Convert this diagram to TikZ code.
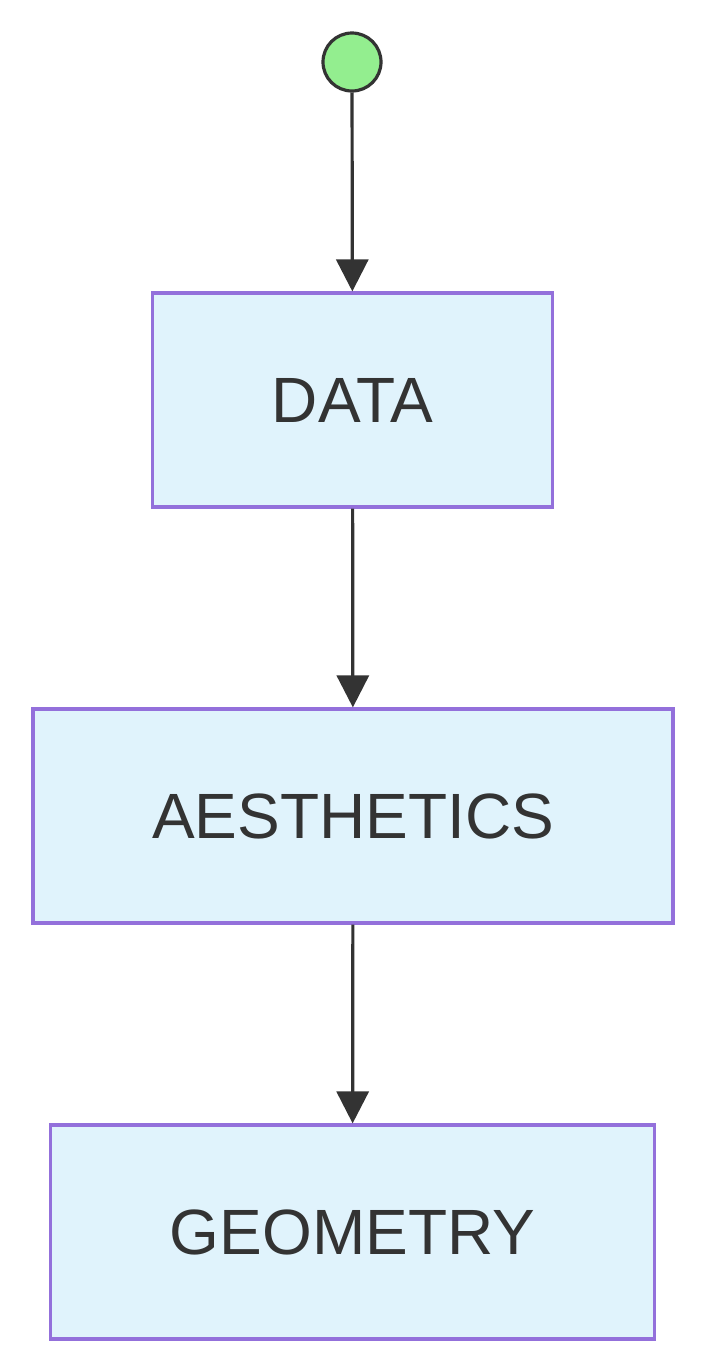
\documentclass[tikz,border=0pt]{standalone}
\usepackage{fontspec}
\setmainfont{Liberation Sans}
\usetikzlibrary{arrows.meta}
\definecolor{flowpurple}{RGB}{147,112,219}
\definecolor{flowfill}{RGB}{224,243,252}
\definecolor{flowdark}{RGB}{51,51,51}
\definecolor{flowgreen}{RGB}{147,238,143}

\tikzset{
  stagebox/.style={draw=flowpurple, fill=flowfill, line width=1.6pt,
    minimum height=107pt, text=flowdark, font=\fontsize{32}{38}\selectfont},
  flowarrow/.style={draw=flowdark, line width=1.6pt,
    -{Triangle[length=16pt,width=16pt]}}
}

\begin{document}
\begin{tikzpicture}[x=0.5pt, y=-0.5pt]
  \useasboundingbox (0,0) rectangle (704,1372);
  % Start point
  \node[circle, draw=flowdark, fill=flowgreen, line width=1.6pt,
    minimum size=29pt, inner sep=0pt] (start) at (352,62) {};
  % Stages
  \node[stagebox, minimum width=200pt] (data) at (352.5,400) {DATA};
  \node[stagebox, minimum width=320pt] (aes) at (353,816) {AESTHETICS};
  \node[stagebox, minimum width=302pt] (geom) at (352.5,1232) {GEOMETRY};
  % Arrows
  \draw[flowarrow] (start) -- (data);
  \draw[flowarrow] (data) -- (aes);
  \draw[flowarrow] (aes) -- (geom);
\end{tikzpicture}
\end{document}
